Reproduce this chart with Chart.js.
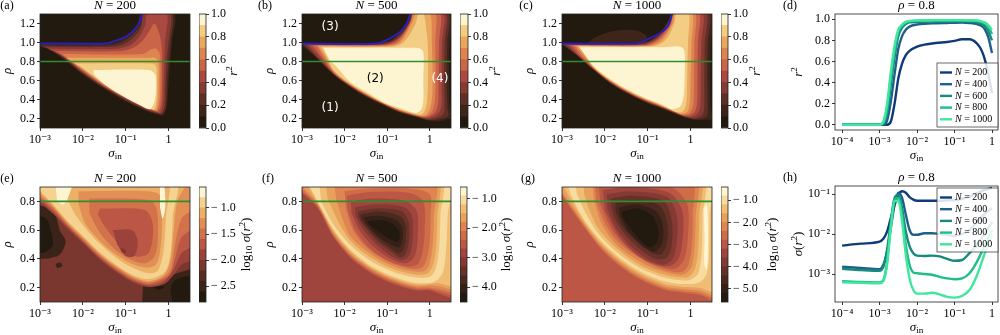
<!DOCTYPE html>
<html>
<head>
<meta charset="utf-8">
<script src="https://cdn.jsdelivr.net/npm/chart.js@4.4.1/dist/chart.umd.min.js"></script>
<style>
  html, body { margin: 0; padding: 0; background: #fff; }
  #fig { position: relative; width: 1000px; height: 335px; overflow: hidden; background: #fff; }
  #fig canvas { position: absolute; }
</style>
</head>
<body>
<div id="fig"></div>
<script>
// ---- axis ticks ----
var xTicksMap = [1e-3, 1e-2, 1e-1, 1];
var xTicksCut = [1e-4, 1e-3, 1e-2, 1e-1, 1];
var rhoTicksTop = [0.2, 0.4, 0.6, 0.8, 1.0, 1.2];
var rhoTicksBottom = [0.2, 0.4, 0.6, 0.8];
var r2Ticks = [0, 0.2, 0.4, 0.6, 0.8, 1.0];
var sdTicks = [1e-3, 1e-2, 1e-1];

// ---- colour bar levels ----
var levelsR2 = [0, 0.1, 0.2, 0.3, 0.4, 0.5, 0.6, 0.7, 0.8, 0.9, 1.0];
var levelsSd200 = [-2.8, -2.6, -2.4, -2.2, -2.0, -1.8, -1.6, -1.4, -1.2, -1.0, -0.8, -0.6];
var levelsSd500 = [-4.5, -4.2, -3.9, -3.6, -3.3, -3.0, -2.7, -2.4, -2.1, -1.8, -1.5, -1.2, -0.9, -0.6];
var levelsSd1000 = [-5.6, -5.2, -4.8, -4.4, -4.0, -3.6, -3.2, -2.8, -2.4, -2.0, -1.6, -1.2, -0.8, -0.4];
var cbTicksSd200 = [-2.5, -2.0, -1.5, -1.0];
var cbTicksSd500 = [-4, -3, -2, -1];
var cbTicksSd1000 = [-5, -4, -3, -2, -1];

// ---- rho = 1 boundary (log10 sigma_in, rho) ----
var boundary200 = [[-3, 0.99], [-1.46, 0.99], [-1.23, 1.02], [-1.0, 1.06], [-0.85, 1.11], [-0.69, 1.2], [-0.62, 1.3]];
var boundary500 = [[-3, 0.99], [-1.24, 0.99], [-0.93, 1.044], [-0.7, 1.11], [-0.54, 1.2], [-0.46, 1.3]];
var boundary1000 = [[-3, 0.99], [-1.26, 0.99], [-1.02, 1.03], [-0.71, 1.1], [-0.52, 1.18], [-0.44, 1.3]];

// ---- regime labels in panel (b): [log10 sigma_in, rho, text, colour] ----
var regimeNotes = [[-2.34, 1.165, '(3)', '#fff'], [-1.28, 0.62, '(2)', '#000'], [0.24, 0.62, '(4)', '#fff'], [-2.34, 0.315, '(1)', '#fff']];

// ---- r^2 contour regions: [band, [[log10 sigma_in, rho], ...]] ----
var r2N200 = [
  [1, [[-3.1,0.985],[-1.46,0.985],[-1.2,1.01],[-1.0,1.06],[-0.85,1.12],[-0.72,1.2],[-0.63,1.32],[0.12,1.32],[0.08,1.0],[0.04,0.8],[0.0,0.575],[-0.04,0.33],[-0.12,0.235],[-0.23,0.24],[-0.5,0.275],[-1.0,0.38],[-1.5,0.51],[-2.0,0.66],[-2.5,0.84],[-2.9,0.95],[-3.1,0.975]]],
  [2, [[-3.1,0.97],[-1.4,0.97],[-1.1,1.0],[-0.9,1.06],[-0.75,1.13],[-0.64,1.2],[-0.57,1.32],[0.07,1.32],[0.05,1.0],[0.0,0.8],[-0.035,0.575],[-0.06,0.33],[-0.14,0.245],[-0.25,0.25],[-0.5,0.285],[-1.0,0.39],[-1.5,0.52],[-2.0,0.67],[-2.5,0.85],[-2.9,0.955],[-3.1,0.965]]],
  [3, [[-3.0,0.955],[-1.3,0.955],[-1.0,0.99],[-0.8,1.06],[-0.65,1.15],[-0.55,1.32],[0.03,1.32],[0.0,1.0],[-0.05,0.8],[-0.07,0.575],[-0.09,0.34],[-0.17,0.25],[-0.28,0.26],[-0.5,0.29],[-1.0,0.4],[-1.5,0.53],[-2.0,0.68],[-2.5,0.86],[-2.85,0.945]]],
  [4, [[-2.8,0.935],[-1.2,0.935],[-0.9,0.97],[-0.7,1.05],[-0.55,1.18],[-0.48,1.32],[-0.05,1.32],[-0.08,1.0],[-0.1,0.8],[-0.11,0.575],[-0.13,0.35],[-0.2,0.26],[-0.3,0.27],[-0.5,0.3],[-1.0,0.41],[-1.5,0.535],[-2.0,0.69],[-2.5,0.865],[-2.75,0.925]]],
  [5, [[-2.65,0.91],[-1.1,0.91],[-0.8,0.95],[-0.6,1.02],[-0.45,1.12],[-0.33,1.2],[-0.22,1.1],[-0.16,0.95],[-0.15,0.8],[-0.15,0.575],[-0.17,0.36],[-0.24,0.27],[-0.32,0.28],[-0.5,0.305],[-1.0,0.415],[-1.5,0.54],[-2.0,0.7],[-2.4,0.84],[-2.6,0.9]]],
  [6, [[-2.5,0.88],[-0.6,0.88],[-0.4,0.93],[-0.27,0.93],[-0.2,0.86],[-0.19,0.575],[-0.21,0.37],[-0.27,0.28],[-0.35,0.29],[-0.5,0.31],[-1.0,0.42],[-1.5,0.55],[-2.0,0.71],[-2.45,0.87]]],
  [7, [[-2.4,0.84],[-0.5,0.84],[-0.32,0.84],[-0.24,0.8],[-0.23,0.575],[-0.25,0.38],[-0.3,0.29],[-0.5,0.315],[-1.0,0.425],[-1.5,0.56],[-2.0,0.72],[-2.35,0.83]]],
  [8, [[-2.2,0.78],[-0.45,0.78],[-0.3,0.76],[-0.27,0.575],[-0.28,0.4],[-0.34,0.295],[-0.5,0.32],[-1.0,0.43],[-1.5,0.565],[-2.0,0.73],[-2.15,0.77]]],
  [9, [[-1.75,0.71],[-0.46,0.71],[-0.31,0.66],[-0.31,0.42],[-0.42,0.3],[-0.62,0.33],[-1.08,0.44],[-1.54,0.575],[-1.75,0.67]]]
];

var r2N500 = [
  [1, [[-3.1,0.99],[-1.24,0.99],[-1.0,1.01],[-0.8,1.06],[-0.62,1.15],[-0.5,1.25],[-0.46,1.32],[0.55,1.32],[0.47,1.0],[0.46,0.6],[0.48,0.3],[0.55,0.22],[0.4,0.19],[0.2,0.17],[0.0,0.175],[-0.3,0.21],[-0.7,0.26],[-1.09,0.34],[-1.48,0.425],[-1.87,0.53],[-2.26,0.66],[-2.65,0.835],[-3.0,0.975],[-3.1,0.985]]],
  [2, [[-3.05,0.99],[-1.2,0.99],[-0.95,1.01],[-0.75,1.07],[-0.58,1.16],[-0.47,1.25],[-0.43,1.32],[0.43,1.32],[0.41,1.0],[0.4,0.6],[0.42,0.3],[0.44,0.23],[0.3,0.2],[0.1,0.185],[-0.05,0.185],[-0.3,0.215],[-0.7,0.265],[-1.09,0.345],[-1.48,0.43],[-1.87,0.535],[-2.26,0.665],[-2.65,0.84],[-3.0,0.98]]],
  [3, [[-2.95,0.985],[-1.15,0.985],[-0.9,1.01],[-0.7,1.07],[-0.55,1.16],[-0.44,1.25],[-0.41,1.32],[0.37,1.32],[0.35,1.0],[0.34,0.6],[0.35,0.32],[0.32,0.25],[0.2,0.21],[0.05,0.195],[-0.1,0.195],[-0.3,0.22],[-0.7,0.27],[-1.09,0.35],[-1.48,0.435],[-1.87,0.54],[-2.26,0.67],[-2.65,0.845],[-2.9,0.97]]],
  [4, [[-2.85,0.98],[-1.1,0.98],[-0.85,1.01],[-0.66,1.08],[-0.52,1.17],[-0.42,1.25],[-0.39,1.32],[0.31,1.32],[0.29,1.0],[0.28,0.6],[0.28,0.34],[0.22,0.26],[0.1,0.22],[-0.05,0.205],[-0.3,0.225],[-0.7,0.275],[-1.09,0.353],[-1.48,0.44],[-1.87,0.545],[-2.26,0.675],[-2.6,0.85],[-2.82,0.96]]],
  [5, [[-2.75,0.975],[-1.05,0.975],[-0.8,1.01],[-0.62,1.09],[-0.49,1.18],[-0.4,1.26],[-0.37,1.32],[0.23,1.32],[0.22,1.0],[0.21,0.6],[0.2,0.36],[0.14,0.27],[0.03,0.23],[-0.1,0.215],[-0.3,0.23],[-0.7,0.28],[-1.09,0.357],[-1.48,0.445],[-1.87,0.55],[-2.26,0.68],[-2.55,0.85],[-2.72,0.95]]],
  [6, [[-2.65,0.97],[-1.0,0.97],[-0.75,1.0],[-0.58,1.1],[-0.46,1.2],[-0.36,1.32],[0.12,1.32],[0.13,1.0],[0.14,0.6],[0.12,0.38],[0.06,0.28],[-0.03,0.235],[-0.15,0.22],[-0.3,0.235],[-0.7,0.285],[-1.09,0.36],[-1.48,0.45],[-1.87,0.555],[-2.26,0.69],[-2.5,0.85],[-2.62,0.94]]],
  [7, [[-2.6,0.96],[-0.95,0.965],[-0.7,1.0],[-0.54,1.1],[-0.4,1.22],[-0.3,1.32],[0.0,1.32],[0.05,1.0],[0.07,0.6],[0.05,0.4],[0.0,0.3],[-0.08,0.24],[-0.2,0.23],[-0.35,0.24],[-0.7,0.29],[-1.09,0.362],[-1.48,0.455],[-1.87,0.56],[-2.26,0.7],[-2.45,0.85],[-2.57,0.93]]],
  [8, [[-2.55,0.955],[-0.9,0.955],[-0.65,0.99],[-0.48,1.08],[-0.33,1.2],[-0.25,1.32],[-0.15,1.32],[-0.07,1.1],[-0.04,0.9],[-0.04,0.6],[-0.06,0.4],[-0.1,0.3],[-0.18,0.245],[-0.3,0.245],[-0.7,0.295],[-1.09,0.364],[-1.48,0.46],[-1.87,0.565],[-2.26,0.71],[-2.42,0.85],[-2.52,0.93]]],
  [9, [[-2.49,0.945],[-0.5,0.945],[-0.25,0.94],[-0.15,0.9],[-0.15,0.6],[-0.15,0.4],[-0.19,0.3],[-0.3,0.26],[-0.38,0.26],[-0.7,0.31],[-1.09,0.375],[-1.48,0.48],[-1.87,0.585],[-2.2,0.75],[-2.34,0.81],[-2.45,0.9]]]
];

var r2N1000 = [
  [1, [[-2.4,0.995],[-2.2,1.06],[-1.8,1.12],[-1.3,1.13],[-1.05,1.08],[-1.0,1.0]]],
  [1, [[-3.1,0.99],[-1.26,0.99],[-1.0,1.01],[-0.8,1.07],[-0.6,1.17],[-0.48,1.27],[-0.44,1.32],[0.5,1.32],[0.47,1.0],[0.46,0.6],[0.47,0.3],[0.55,0.2],[0.3,0.185],[0.03,0.19],[-0.32,0.24],[-0.71,0.31],[-1.1,0.38],[-1.49,0.465],[-1.88,0.57],[-2.27,0.71],[-2.66,0.865],[-3.0,0.98],[-3.1,0.985]]],
  [2, [[-3.05,0.99],[-1.2,0.99],[-0.95,1.02],[-0.75,1.08],[-0.57,1.18],[-0.46,1.27],[-0.42,1.32],[0.42,1.32],[0.4,1.0],[0.39,0.6],[0.4,0.3],[0.38,0.22],[0.2,0.195],[0.0,0.2],[-0.32,0.245],[-0.71,0.315],[-1.1,0.385],[-1.49,0.47],[-1.88,0.575],[-2.27,0.715],[-2.66,0.87],[-3.0,0.982]]],
  [3, [[-2.95,0.985],[-1.15,0.985],[-0.9,1.02],[-0.7,1.09],[-0.54,1.19],[-0.44,1.28],[-0.41,1.32],[0.35,1.32],[0.33,1.0],[0.32,0.6],[0.32,0.32],[0.28,0.24],[0.12,0.205],[-0.05,0.21],[-0.32,0.25],[-0.71,0.32],[-1.1,0.39],[-1.49,0.475],[-1.88,0.58],[-2.27,0.72],[-2.66,0.875],[-2.92,0.975]]],
  [4, [[-2.88,0.98],[-1.1,0.98],[-0.85,1.02],[-0.66,1.1],[-0.51,1.2],[-0.42,1.28],[-0.39,1.32],[0.27,1.32],[0.25,1.0],[0.24,0.6],[0.23,0.34],[0.18,0.26],[0.05,0.22],[-0.1,0.22],[-0.32,0.255],[-0.71,0.325],[-1.1,0.395],[-1.49,0.48],[-1.88,0.585],[-2.27,0.725],[-2.66,0.88],[-2.85,0.97]]],
  [5, [[-2.8,0.975],[-1.05,0.975],[-0.8,1.02],[-0.62,1.1],[-0.48,1.2],[-0.4,1.28],[-0.37,1.32],[0.19,1.32],[0.17,1.0],[0.16,0.6],[0.15,0.36],[0.1,0.27],[0.0,0.235],[-0.15,0.23],[-0.32,0.26],[-0.71,0.33],[-1.1,0.4],[-1.49,0.485],[-1.88,0.59],[-2.27,0.73],[-2.6,0.87],[-2.77,0.965]]],
  [6, [[-2.72,0.97],[-1.0,0.97],[-0.75,1.02],[-0.58,1.1],[-0.45,1.2],[-0.37,1.32],[0.1,1.32],[0.09,1.0],[0.08,0.6],[0.07,0.38],[0.03,0.29],[-0.05,0.25],[-0.2,0.24],[-0.32,0.265],[-0.71,0.335],[-1.1,0.405],[-1.49,0.49],[-1.88,0.595],[-2.27,0.735],[-2.55,0.87],[-2.7,0.96]]],
  [7, [[-2.67,0.965],[-0.95,0.965],[-0.7,1.01],[-0.54,1.1],[-0.42,1.2],[-0.34,1.32],[0.03,1.32],[0.02,1.0],[0.0,0.6],[-0.01,0.4],[-0.04,0.3],[-0.1,0.26],[-0.25,0.25],[-0.35,0.27],[-0.71,0.34],[-1.1,0.41],[-1.49,0.495],[-1.88,0.6],[-2.27,0.74],[-2.5,0.87],[-2.64,0.955]]],
  [8, [[-2.62,0.96],[-0.9,0.96],[-0.65,1.0],[-0.5,1.08],[-0.38,1.2],[-0.31,1.32],[-0.05,1.32],[-0.06,1.0],[-0.08,0.6],[-0.09,0.42],[-0.12,0.32],[-0.18,0.275],[-0.3,0.265],[-0.4,0.28],[-0.71,0.345],[-1.1,0.415],[-1.49,0.5],[-1.88,0.605],[-2.27,0.745],[-2.45,0.87],[-2.59,0.95]]],
  [9, [[-2.59,0.95],[-0.6,0.95],[-0.35,0.96],[-0.2,0.95],[-0.14,0.9],[-0.14,0.6],[-0.16,0.44],[-0.22,0.34],[-0.3,0.31],[-0.45,0.3],[-0.71,0.355],[-1.1,0.425],[-1.49,0.51],[-1.88,0.615],[-2.27,0.755],[-2.45,0.86],[-2.56,0.93]]]
];

// ---- log10 sigma(r^2) contour regions ----
var sdN200 = [
  [1, [[-3.05,0.77],[-2.77,0.755],[-2.62,0.69],[-2.54,0.6],[-2.4,0.52],[-2.54,0.43],[-2.77,0.405],[-3.05,0.4]]],
  [0, [[-3.05,0.7],[-2.85,0.68],[-2.75,0.6],[-2.7,0.5],[-2.85,0.45],[-3.05,0.44]]],
  [1, [[-2.64,0.365],[-2.52,0.375],[-2.48,0.35],[-2.6,0.335]]],
  [1, [[-0.62,0.09],[-0.56,0.24],[-0.31,0.275],[-0.08,0.25],[0.08,0.285],[0.31,0.31],[0.55,0.32],[0.55,0.09]]],
  [0, [[-0.4,0.21],[-0.25,0.225],[-0.1,0.2],[-0.25,0.185]]],
  [0, [[0.1,0.09],[0.05,0.2],[0.2,0.26],[0.55,0.27],[0.55,0.09]]],
  [4, [[-3.05,0.95],[0.55,0.95],[0.55,0.4],[0.3,0.36],[0.12,0.29],[-0.1,0.225],[-0.46,0.205],[-0.85,0.24],[-1.23,0.31],[-1.62,0.4],[-2.0,0.51],[-2.38,0.615],[-2.7,0.715],[-3.05,0.8]]],
  [5, [[-3.05,0.95],[0.55,0.95],[0.55,0.5],[0.3,0.44],[0.12,0.33],[-0.1,0.245],[-0.46,0.215],[-0.85,0.25],[-1.23,0.32],[-1.62,0.41],[-2.0,0.52],[-2.38,0.63],[-2.7,0.73],[-3.05,0.82]]],
  [6, [[-3.05,0.95],[0.55,0.95],[0.55,0.62],[0.3,0.55],[0.15,0.4],[0.05,0.3],[-0.1,0.26],[-0.46,0.225],[-0.85,0.26],[-1.23,0.33],[-1.62,0.42],[-2.0,0.53],[-2.38,0.64],[-2.7,0.745],[-3.05,0.835]]],
  [7, [[-3.05,0.95],[0.55,0.95],[0.55,0.75],[0.3,0.68],[0.15,0.5],[0.05,0.33],[-0.1,0.275],[-0.46,0.235],[-0.85,0.27],[-1.23,0.34],[-1.62,0.43],[-2.0,0.54],[-2.38,0.65],[-2.7,0.76],[-3.05,0.85]]],
  [8, [[-3.05,0.95],[0.4,0.95],[0.2,0.8],[0.12,0.6],[0.05,0.4],[-0.1,0.29],[-0.46,0.245],[-0.85,0.28],[-1.23,0.35],[-1.62,0.44],[-2.0,0.55],[-2.38,0.66],[-2.7,0.77],[-3.05,0.87]]],
  [9, [[-3.05,0.95],[0.15,0.95],[0.1,0.7],[0.05,0.45],[-0.08,0.31],[-0.46,0.26],[-0.85,0.29],[-1.23,0.36],[-1.62,0.45],[-2.0,0.56],[-2.38,0.67],[-2.7,0.78],[-3.05,0.89]]],
  [8, [[-2.4,0.95],[-0.05,0.95],[-0.06,0.7],[-0.12,0.45],[-0.25,0.32],[-0.46,0.3],[-0.85,0.34],[-1.23,0.41],[-1.62,0.51],[-1.9,0.6],[-2.2,0.72],[-2.4,0.85]]],
  [7, [[-2.1,0.87],[-0.5,0.87],[-0.2,0.84],[-0.15,0.65],[-0.2,0.45],[-0.3,0.36],[-0.5,0.34],[-0.85,0.365],[-1.23,0.43],[-1.62,0.53],[-1.95,0.65],[-2.1,0.78]]],
  [6, [[-1.85,0.82],[-0.45,0.81],[-0.28,0.75],[-0.25,0.55],[-0.32,0.42],[-0.55,0.37],[-0.85,0.39],[-1.23,0.46],[-1.6,0.58],[-1.85,0.72]]],
  [5, [[-1.6,0.75],[-0.55,0.74],[-0.38,0.66],[-0.38,0.52],[-0.5,0.43],[-0.8,0.42],[-1.15,0.5],[-1.5,0.63],[-1.65,0.71]]],
  [4, [[-1.3,0.6],[-0.85,0.6],[-0.72,0.52],[-0.8,0.42],[-1.0,0.42],[-1.2,0.5]]],
  [3, [[-1.12,0.475],[-1.02,0.465],[-1.0,0.44],[-1.1,0.45]]],
  [10, [[-2.65,0.95],[-2.25,0.95],[-2.3,0.86],[-2.45,0.78],[-2.6,0.8]]],
  [10, [[-0.2,0.9],[-0.1,0.9],[-0.08,0.75],[-0.14,0.68],[-0.2,0.76]]]
];

var sdN500 = [
  [6, [[-3.05,0.95],[0.55,0.95],[0.55,0.14],[0.2,0.16],[0.0,0.18],[-0.3,0.18],[-0.7,0.21],[-1.09,0.255],[-1.48,0.32],[-1.87,0.41],[-2.26,0.55],[-2.65,0.76],[-3.05,0.87]]],
  [7, [[-3.05,0.95],[0.55,0.95],[0.55,0.16],[0.2,0.175],[0.0,0.19],[-0.3,0.19],[-0.7,0.22],[-1.09,0.265],[-1.48,0.33],[-1.87,0.42],[-2.26,0.56],[-2.65,0.77],[-3.05,0.885]]],
  [8, [[-3.05,0.95],[0.55,0.95],[0.55,0.18],[0.2,0.19],[0.0,0.2],[-0.3,0.2],[-0.7,0.23],[-1.09,0.275],[-1.48,0.34],[-1.87,0.43],[-2.26,0.57],[-2.65,0.78],[-3.05,0.9]]],
  [9, [[-3.05,0.95],[0.55,0.95],[0.55,0.2],[0.2,0.21],[0.0,0.215],[-0.3,0.21],[-0.7,0.24],[-1.09,0.285],[-1.48,0.35],[-1.87,0.44],[-2.26,0.58],[-2.65,0.79],[-3.05,0.92]]],
  [10, [[-2.95,0.95],[0.55,0.95],[0.55,0.22],[0.2,0.23],[0.0,0.225],[-0.3,0.22],[-0.7,0.25],[-1.09,0.295],[-1.48,0.36],[-1.87,0.455],[-2.26,0.595],[-2.65,0.8]]],
  [11, [[-2.9,0.95],[0.45,0.95],[0.42,0.7],[0.38,0.45],[0.3,0.3],[0.1,0.24],[-0.3,0.232],[-0.7,0.26],[-1.09,0.305],[-1.48,0.37],[-1.87,0.465],[-2.26,0.605],[-2.65,0.81]]],
  [10, [[-2.6,0.95],[0.25,0.95],[0.25,0.7],[0.22,0.47],[0.14,0.33],[0.0,0.275],[-0.3,0.27],[-0.7,0.295],[-1.09,0.34],[-1.48,0.405],[-1.87,0.5],[-2.26,0.64],[-2.55,0.8]]],
  [9, [[-2.45,0.95],[0.17,0.95],[0.18,0.7],[0.15,0.48],[0.07,0.35],[-0.05,0.3],[-0.3,0.29],[-0.7,0.315],[-1.09,0.36],[-1.48,0.43],[-1.87,0.53],[-2.15,0.66],[-2.4,0.82]]],
  [8, [[-2.25,0.95],[0.1,0.95],[0.1,0.7],[0.07,0.5],[0.0,0.37],[-0.1,0.32],[-0.3,0.31],[-0.7,0.335],[-1.09,0.38],[-1.48,0.455],[-1.87,0.56],[-2.05,0.68],[-2.2,0.82]]],
  [7, [[-2.0,0.87],[-1.5,0.89],[-0.5,0.89],[0.0,0.85],[0.02,0.7],[0.0,0.52],[-0.07,0.4],[-0.18,0.34],[-0.4,0.33],[-0.75,0.355],[-1.09,0.4],[-1.48,0.48],[-1.8,0.6],[-1.97,0.75]]],
  [6, [[-1.95,0.84],[-1.4,0.865],[-0.5,0.86],[-0.15,0.8],[-0.12,0.6],[-0.17,0.45],[-0.3,0.36],[-0.6,0.35],[-1.0,0.39],[-1.4,0.47],[-1.75,0.6],[-1.93,0.74]]],
  [5, [[-1.85,0.8],[-1.3,0.82],[-0.55,0.8],[-0.3,0.73],[-0.28,0.55],[-0.35,0.42],[-0.55,0.37],[-0.9,0.4],[-1.3,0.48],[-1.65,0.6],[-1.84,0.72]]],
  [4, [[-1.75,0.76],[-1.2,0.78],[-0.6,0.76],[-0.42,0.7],[-0.4,0.55],[-0.47,0.43],[-0.63,0.39],[-0.9,0.42],[-1.25,0.5],[-1.6,0.62],[-1.75,0.7]]],
  [3, [[-1.68,0.73],[-1.2,0.75],[-0.65,0.73],[-0.5,0.66],[-0.48,0.55],[-0.54,0.45],[-0.67,0.41],[-0.9,0.45],[-1.25,0.53],[-1.55,0.63],[-1.68,0.69]]],
  [2, [[-1.62,0.71],[-1.2,0.73],[-0.72,0.7],[-0.57,0.64],[-0.56,0.55],[-0.61,0.47],[-0.72,0.44],[-0.95,0.48],[-1.28,0.56],[-1.52,0.64],[-1.62,0.68]]],
  [1, [[-1.55,0.69],[-1.2,0.7],[-0.78,0.67],[-0.64,0.61],[-0.64,0.54],[-0.71,0.48],[-0.98,0.51],[-1.3,0.58],[-1.5,0.65]]],
  [0, [[-1.45,0.66],[-1.15,0.67],[-0.85,0.64],[-0.71,0.58],[-0.75,0.52],[-0.95,0.54],[-1.25,0.6],[-1.42,0.64]]]
];

var sdN1000 = [
  [7, [[-3.05,0.95],[0.55,0.95],[0.55,0.12],[0.2,0.15],[-0.16,0.165],[-0.55,0.18],[-0.95,0.225],[-1.34,0.285],[-1.73,0.37],[-2.12,0.48],[-2.51,0.63],[-3.05,0.86]]],
  [8, [[-3.05,0.95],[0.55,0.95],[0.55,0.14],[0.2,0.165],[-0.16,0.177],[-0.55,0.192],[-0.95,0.237],[-1.34,0.297],[-1.73,0.382],[-2.12,0.492],[-2.51,0.643],[-3.05,0.875]]],
  [9, [[-3.05,0.95],[0.55,0.95],[0.55,0.16],[0.2,0.18],[-0.16,0.19],[-0.55,0.205],[-0.95,0.25],[-1.34,0.31],[-1.73,0.395],[-2.12,0.505],[-2.51,0.655],[-3.05,0.89]]],
  [10, [[-3.05,0.95],[0.55,0.95],[0.55,0.18],[0.2,0.2],[-0.16,0.205],[-0.55,0.22],[-0.95,0.265],[-1.34,0.325],[-1.73,0.41],[-2.12,0.52],[-2.51,0.67],[-3.0,0.92]]],
  [11, [[-2.9,0.95],[0.45,0.95],[0.44,0.7],[0.43,0.45],[0.38,0.3],[0.2,0.235],[-0.16,0.225],[-0.55,0.24],[-0.95,0.28],[-1.34,0.34],[-1.73,0.425],[-2.12,0.535],[-2.51,0.685],[-2.8,0.85]]],
  [10, [[-2.7,0.95],[0.28,0.95],[0.28,0.7],[0.26,0.45],[0.18,0.3],[0.0,0.255],[-0.16,0.25],[-0.55,0.265],[-0.95,0.305],[-1.34,0.365],[-1.73,0.45],[-2.12,0.565],[-2.45,0.72],[-2.65,0.85]]],
  [9, [[-2.5,0.95],[0.2,0.95],[0.2,0.7],[0.18,0.47],[0.1,0.33],[-0.05,0.275],[-0.2,0.27],[-0.55,0.285],[-0.95,0.325],[-1.34,0.385],[-1.73,0.475],[-2.12,0.6],[-2.35,0.73],[-2.48,0.85]]],
  [8, [[-2.3,0.95],[0.12,0.95],[0.12,0.7],[0.1,0.5],[0.03,0.35],[-0.1,0.3],[-0.25,0.29],[-0.55,0.305],[-0.95,0.345],[-1.34,0.41],[-1.73,0.5],[-2.05,0.63],[-2.25,0.8]]],
  [7, [[-2.25,0.96],[0.0,0.96],[0.05,0.7],[0.03,0.5],[-0.05,0.36],[-0.2,0.31],[-0.55,0.32],[-0.95,0.365],[-1.34,0.435],[-1.73,0.53],[-2.0,0.65],[-2.2,0.8]]],
  [6, [[-2.15,0.92],[-1.5,0.94],[-0.45,0.9],[-0.08,0.78],[-0.06,0.56],[-0.15,0.4],[-0.35,0.335],[-0.7,0.345],[-1.1,0.4],[-1.5,0.485],[-1.85,0.61],[-2.1,0.78]]],
  [5, [[-2.05,0.88],[-1.45,0.9],[-0.5,0.86],[-0.2,0.74],[-0.18,0.55],[-0.28,0.4],[-0.5,0.35],[-0.9,0.37],[-1.3,0.44],[-1.7,0.57],[-2.0,0.74]]],
  [4, [[-1.95,0.85],[-1.4,0.87],[-0.55,0.83],[-0.32,0.7],[-0.32,0.52],[-0.42,0.4],[-0.65,0.36],[-1.0,0.4],[-1.4,0.49],[-1.75,0.62],[-1.95,0.76]]],
  [3, [[-1.85,0.82],[-1.35,0.84],[-0.62,0.8],[-0.44,0.66],[-0.44,0.5],[-0.55,0.41],[-0.8,0.4],[-1.15,0.46],[-1.5,0.56],[-1.75,0.67],[-1.85,0.76]]],
  [2, [[-1.75,0.79],[-1.3,0.81],[-0.72,0.77],[-0.54,0.64],[-0.56,0.5],[-0.7,0.43],[-0.95,0.45],[-1.3,0.53],[-1.6,0.63],[-1.75,0.73]]],
  [1, [[-1.68,0.76],[-1.25,0.78],[-0.8,0.73],[-0.64,0.62],[-0.68,0.5],[-0.85,0.45],[-1.15,0.5],[-1.45,0.59],[-1.65,0.7]]],
  [0, [[-1.6,0.73],[-1.25,0.75],[-0.9,0.7],[-0.75,0.6],[-0.8,0.51],[-0.95,0.48],[-1.2,0.54],[-1.45,0.63],[-1.58,0.69]]],
  [12, [[0.3,0.75],[0.38,0.78],[0.41,0.5],[0.38,0.33],[0.32,0.36],[0.33,0.55]]]
];

// ---- cuts at rho = 0.8 ----
var nLabels = ['200', '400', '600', '800', '1000'];
var lineColors = ['#0e3a78', '#1f5f8b', '#17897f', '#1fbd8a', '#3ee79c'];

var logSigmaR2 = [-4, -3.5, -3, -2.9, -2.8, -2.7, -2.6, -2.5, -2.4, -2.3, -2.2, -2.0, -1.8, -1.5, -1.2, -1.0, -0.8, -0.6, -0.4, -0.3, -0.2, -0.1, 0];
var r2N200Cut = [0, 0, 0, 0, 0.0, 0.03, 0.2, 0.44, 0.58, 0.66, 0.7, 0.74, 0.76, 0.775, 0.785, 0.795, 0.81, 0.81, 0.77, 0.72, 0.63, 0.48, 0.3];
var r2N400Cut = [0, 0, 0, 0, 0.04, 0.22, 0.48, 0.72, 0.84, 0.9, 0.93, 0.95, 0.958, 0.962, 0.965, 0.967, 0.968, 0.965, 0.955, 0.94, 0.91, 0.83, 0.68];
var r2N600Cut = [0, 0, 0, 0.01, 0.1, 0.38, 0.64, 0.84, 0.92, 0.955, 0.97, 0.975, 0.977, 0.978, 0.979, 0.98, 0.98, 0.978, 0.972, 0.96, 0.94, 0.89, 0.8];
var r2N800Cut = [0, 0, 0, 0.02, 0.15, 0.45, 0.7, 0.88, 0.94, 0.97, 0.98, 0.985, 0.986, 0.987, 0.988, 0.988, 0.988, 0.987, 0.982, 0.975, 0.96, 0.93, 0.86];
var r2N1000Cut = [0, 0, 0, 0.03, 0.2, 0.5, 0.75, 0.9, 0.95, 0.975, 0.985, 0.99, 0.991, 0.992, 0.992, 0.992, 0.992, 0.991, 0.988, 0.982, 0.97, 0.945, 0.9];

var logSigmaSd = [-4, -3.5, -3, -2.9, -2.8, -2.7, -2.6, -2.5, -2.4, -2.3, -2.2, -2.1, -2.0, -1.8, -1.6, -1.4, -1.2, -1.0, -0.8, -0.6, -0.4, -0.2, 0];
var logSdN200Cut = [-2.29, -2.24, -2.19, -2.12, -1.94, -1.6, -1.27, -1.02, -0.93, -0.97, -1.08, -1.14, -1.17, -1.17, -1.17, -1.17, -1.16, -1.15, -1.12, -1.06, -0.98, -0.9, -0.85];
var logSdN400Cut = [-2.82, -2.85, -2.88, -2.77, -2.44, -1.85, -1.27, -0.97, -1.1, -1.52, -1.9, -2.02, -2.02, -1.98, -1.98, -2.0, -2.02, -2.05, -2.0, -1.9, -1.7, -1.5, -1.35];
var logSdN600Cut = [-2.87, -2.9, -2.92, -2.82, -2.4, -1.69, -1.1, -1.02, -1.35, -1.94, -2.31, -2.48, -2.54, -2.55, -2.54, -2.56, -2.62, -2.67, -2.65, -2.48, -2.27, -2.0, -1.7];
var logSdN800Cut = [-3.18, -3.2, -3.21, -3.15, -2.69, -1.77, -1.14, -1.1, -1.52, -2.27, -2.77, -2.96, -2.98, -3.0, -3.02, -3.07, -3.11, -3.13, -3.11, -2.98, -2.69, -2.3, -1.9];
var logSdN1000Cut = [-3.21, -3.22, -3.23, -3.18, -2.77, -1.85, -1.18, -1.17, -1.69, -2.52, -3.11, -3.4, -3.49, -3.49, -3.47, -3.51, -3.57, -3.59, -3.55, -3.4, -3.03, -2.5, -2.0];

// ---- styling helpers ----
var FONT = "'Liberation Serif', 'DejaVu Serif', serif";
Chart.defaults.font.family = FONT;
Chart.defaults.font.size = 12;
Chart.defaults.color = '#000';
Chart.defaults.plugins.legend.display = false;
Chart.defaults.plugins.tooltip.enabled = false;

var CMAP = ['#22190f', '#3e2419', '#5e2f25', '#853a33', '#aa4940', '#cb6547', '#dd8450', '#eaa85e', '#f4cd84', '#fdf5d2'];

function hexRgb(h) {
  return [1, 3, 5].map(function (i) { return parseInt(h.substr(i, 2), 16); });
}

// colour of contour band b out of n, sampled at the band middle
function bandColor(b, n) {
  var t = Math.min(9, Math.max(0, (b + 0.5) / n * 10 - 0.5));
  var i = Math.min(8, Math.floor(t));
  var f = t - i;
  var c0 = hexRgb(CMAP[i]), c1 = hexRgb(CMAP[i + 1]);
  return 'rgb(' + c0.map(function (v, k) { return Math.round(v + (c1[k] - v) * f); }).join(',') + ')';
}

var SUP = {'-': '\u207B', '0': '\u2070', '1': '\u00B9', '2': '\u00B2', '3': '\u00B3', '4': '\u2074', '5': '\u2075'};
function powLabel(v) {
  var e = Math.round(Math.log10(v));
  if (e === 0) return '1';
  return '10' + String(e).split('').map(function (c) { return SUP[c]; }).join('');
}

function minusLabel(v) {
  return v < 0 ? '\u2212 ' + Math.abs(v).toFixed(1) : v.toFixed(1);
}

// draws a run of text pieces (italic, sub/superscript) centred on x,y
function drawRuns(ctx, runs, x, y, size, rot, align) {
  ctx.save();
  ctx.translate(x, y);
  if (rot) ctx.rotate(rot);
  var total = 0;
  var parts = runs.map(function (r) {
    var s = size * (r.sc || 1);
    var font = (r.it ? 'italic ' : '') + s + 'px ' + FONT;
    ctx.font = font;
    var w = ctx.measureText(r.t).width;
    total += w;
    return {t: r.t, font: font, w: w, dy: r.dy || 0};
  });
  var cx = align === 'left' ? 0 : -total / 2;
  ctx.textBaseline = 'middle';
  ctx.textAlign = 'left';
  ctx.fillStyle = '#000';
  parts.forEach(function (p) {
    ctx.font = p.font;
    ctx.fillText(p.t, cx, p.dy);
    cx += p.w;
  });
  ctx.restore();
}

var XLABEL = [{t: '\u03C3', it: true}, {t: 'in', sc: 0.7, dy: 3}];
var RHO = [{t: '\u03C1', it: true}];
var R2 = [{t: 'r', it: true}, {t: '2', sc: 0.7, dy: -4}];
var SDR2 = [{t: '\u03C3', it: true}, {t: '('}, {t: 'r', it: true}, {t: '2', sc: 0.7, dy: -4}, {t: ')'}];
var LOGSD = [{t: 'log'}, {t: '10', sc: 0.7, dy: 3}, {t: ' \u03C3', it: true}, {t: '('}, {t: 'r', it: true}, {t: '2', sc: 0.7, dy: -4}, {t: ')'}];
function nTitle(n) { return [{t: 'N', it: true}, {t: ' = ' + n}]; }
var RHOTITLE = [{t: '\u03C1', it: true}, {t: ' = 0.8'}];

var fig = document.getElementById('fig');
function addCanvas(left, top, w, h) {
  var c = document.createElement('canvas');
  c.width = w; c.height = h;
  c.style.left = left + 'px'; c.style.top = top + 'px';
  c.style.width = w + 'px'; c.style.height = h + 'px';
  fig.appendChild(c);
  return c;
}

function fixedTicks(list) {
  return function (s) { s.ticks = list.map(function (v) { return {value: v}; }); };
}

function axisGrid() {
  return {drawOnChartArea: false, color: '#000', tickLength: 3, tickWidth: 0.8};
}

// frame, titles and axis labels of a panel
function decor(o) {
  return {
    id: 'decor',
    beforeDatasetsDraw: function (chart) {
      if (o.bg == null) return;
      var a = chart.chartArea, ctx = chart.ctx;
      ctx.save();
      ctx.fillStyle = o.bg;
      ctx.fillRect(a.left, a.top, a.right - a.left, a.bottom - a.top);
      ctx.restore();
    },
    afterDraw: function (chart) {
      var a = chart.chartArea, ctx = chart.ctx;
      ctx.save();
      ctx.strokeStyle = '#222';
      ctx.lineWidth = 0.8;
      ctx.strokeRect(a.left, a.top, a.right - a.left, a.bottom - a.top);
      ctx.restore();
      if (o.notes) {
        var sx = chart.scales.x, sy = chart.scales.y;
        ctx.save();
        ctx.font = "12px 'DejaVu Sans', sans-serif";
        ctx.textAlign = 'center';
        ctx.textBaseline = 'middle';
        o.notes.forEach(function (nt) {
          ctx.fillStyle = nt[3];
          ctx.fillText(nt[2], sx.getPixelForValue(Math.pow(10, nt[0])), sy.getPixelForValue(nt[1]));
        });
        ctx.restore();
      }
      if (o.legend) o.legend(chart);
      drawRuns(ctx, o.title, (a.left + a.right) / 2, a.top - 8, 13);
      drawRuns(ctx, [{t: o.letter}], a.left - o.letterDx, a.top - 8, 12);
      drawRuns(ctx, XLABEL, (a.left + a.right) / 2, a.bottom + 26, 13);
      drawRuns(ctx, o.ylabel, a.left - o.ylabelDx, (a.top + a.bottom) / 2, 13, -Math.PI / 2);
    }
  };
}

var PADL = 56, PADT = 20, PADB = 40, AXW = 40, AXH = 24;

function contourPanel(p) {
  var cv = addCanvas(p.left - PADL, p.top - PADT, p.width + PADL + 4, p.height + PADT + PADB);
  var xMin = 1e-3, xMax = Math.pow(10, 0.5);
  var ds = p.regions.map(function (reg, i) {
    return {
      data: reg[1].map(function (q) { return {x: Math.pow(10, q[0]), y: q[1]}; }),
      backgroundColor: bandColor(reg[0], p.nBands),
      borderWidth: 0, pointRadius: 0, fill: 'shape', tension: 0.3,
      capBezierPoints: false, order: -i
    };
  });
  ds.push({
    data: [{x: xMin, y: 0.8}, {x: xMax, y: 0.8}],
    borderColor: '#2f8f2f', borderWidth: 1.6, pointRadius: 0, fill: false, order: -1000
  });
  if (p.boundary) {
    ds.push({
      data: p.boundary.map(function (q) { return {x: Math.pow(10, q[0]), y: q[1]}; }),
      borderColor: '#2b1fb8', borderWidth: 2, pointRadius: 0, fill: false, tension: 0.3,
      capBezierPoints: false, order: -1001
    });
  }
  new Chart(cv, {
    type: 'line',
    data: {datasets: ds},
    options: {
      responsive: false, animation: false, devicePixelRatio: 1, events: [],
      layout: {padding: {left: PADL - AXW, top: PADT, right: 4, bottom: PADB - AXH}},
      scales: {
        x: {
          type: 'logarithmic', min: xMin, max: xMax,
          afterBuildTicks: fixedTicks(xTicksMap),
          afterFit: function (s) { s.height = AXH; },
          grid: axisGrid(), border: {display: false},
          ticks: {callback: powLabel, autoSkip: false, maxRotation: 0, padding: 2}
        },
        y: {
          type: 'linear', min: p.yMin, max: p.yMax,
          afterBuildTicks: fixedTicks(p.yTicks),
          afterFit: function (s) { s.width = AXW; },
          grid: axisGrid(), border: {display: false},
          ticks: {callback: function (v) { return v.toFixed(1); }, padding: 2}
        }
      }
    },
    plugins: [decor({bg: bandColor(p.bg, p.nBands), title: p.title, letter: p.letter,
      letterDx: p.letterDx, ylabel: RHO, ylabelDx: 32, notes: p.notes})]
  });
}

function colorBar(p) {
  var W = 62;
  var cv = addCanvas(p.left, p.top - 10, p.width + W, p.height + 20);
  var n = p.levels.length - 1;
  var ds = [];
  for (var i = 0; i < n; i++) {
    ds.push({data: [[p.levels[i], p.levels[i + 1]]], backgroundColor: bandColor(i, n),
      borderWidth: 0, barPercentage: 1, categoryPercentage: 1, grouped: false});
  }
  new Chart(cv, {
    type: 'bar',
    data: {labels: [''], datasets: ds},
    options: {
      responsive: false, animation: false, devicePixelRatio: 1, events: [],
      layout: {padding: {top: 10, bottom: 10, left: 0, right: 0}},
      scales: {
        x: {display: false},
        y: {
          position: 'right', min: p.levels[0], max: p.levels[n],
          afterBuildTicks: fixedTicks(p.ticks),
          afterFit: function (s) { s.width = W; },
          grid: axisGrid(), border: {display: false},
          ticks: {callback: minusLabel, padding: 2}
        }
      }
    },
    plugins: [{
      id: 'cbDecor',
      afterDraw: function (chart) {
        var a = chart.chartArea, ctx = chart.ctx;
        ctx.save();
        ctx.strokeStyle = '#222';
        ctx.lineWidth = 0.8;
        ctx.strokeRect(a.left, a.top, a.right - a.left, a.bottom - a.top);
        ctx.restore();
        drawRuns(ctx, p.label, a.left + p.labelDx, (a.top + a.bottom) / 2, 13, -Math.PI / 2);
      }
    }]
  });
}

function legendDrawer(dx, dy) {
  return function (chart) {
    var a = chart.chartArea, ctx = chart.ctx;
    var x0 = a.left + dx, y0 = a.top + dy, w = 61, h = 64;
    ctx.save();
    ctx.fillStyle = 'rgba(255,255,255,0.85)';
    ctx.strokeStyle = '#444';
    ctx.lineWidth = 0.8;
    ctx.fillRect(x0, y0, w, h);
    ctx.strokeRect(x0, y0, w, h);
    chart.data.datasets.forEach(function (d, i) {
      var yy = y0 + 9.5 + i * 11.7;
      ctx.strokeStyle = d.borderColor;
      ctx.lineWidth = 2.4;
      ctx.beginPath();
      ctx.moveTo(x0 + 3, yy);
      ctx.lineTo(x0 + 15, yy);
      ctx.stroke();
      drawRuns(ctx, [{t: 'N', it: true}, {t: ' = ' + nLabels[i]}], x0 + 18, yy, 10, 0, 'left');
    });
    ctx.restore();
  };
}

function cutPanel(p) {
  var cv = addCanvas(p.left - PADL, p.top - PADT, p.width + PADL + 2, p.height + PADT + PADB);
  var xMin = Math.pow(10, -4.19), xMax = Math.pow(10, 0.16);
  var ds = p.series.map(function (ys, i) {
    return {
      label: 'N = ' + nLabels[i],
      data: p.xs.map(function (u, k) { return {x: Math.pow(10, u), y: p.logY ? Math.pow(10, ys[k]) : ys[k]}; }),
      borderColor: lineColors[i], borderWidth: 2.4, pointRadius: 0, fill: false,
      cubicInterpolationMode: 'monotone', order: -i
    };
  });
  new Chart(cv, {
    type: 'line',
    data: {datasets: ds},
    options: {
      responsive: false, animation: false, devicePixelRatio: 1, events: [],
      layout: {padding: {left: PADL - AXW, top: PADT, right: 2, bottom: PADB - AXH}},
      scales: {
        x: {
          type: 'logarithmic', min: xMin, max: xMax,
          afterBuildTicks: fixedTicks(xTicksCut),
          afterFit: function (s) { s.height = AXH; },
          grid: axisGrid(), border: {display: false},
          ticks: {callback: powLabel, autoSkip: false, maxRotation: 0, padding: 2}
        },
        y: p.logY ? {
          type: 'logarithmic', min: Math.pow(10, -3.7), max: Math.pow(10, -0.8),
          afterBuildTicks: fixedTicks(sdTicks),
          afterFit: function (s) { s.width = AXW; },
          grid: axisGrid(), border: {display: false},
          ticks: {callback: powLabel, autoSkip: false, padding: 2}
        } : {
          type: 'linear', min: -0.05, max: 1.05,
          afterBuildTicks: fixedTicks(r2Ticks),
          afterFit: function (s) { s.width = AXW; },
          grid: axisGrid(), border: {display: false},
          ticks: {callback: function (v) { return v.toFixed(1); }, padding: 2}
        }
      }
    },
    plugins: [decor({bg: null, title: RHOTITLE, letter: p.letter, letterDx: 45,
      ylabel: p.ylabel, ylabelDx: 36, legend: legendDrawer(p.legendDx, p.legendDy)})]
  });
}

// ---- top row: r^2 ----
contourPanel({left: 40, top: 14, width: 150, height: 114, yMin: 0.1, yMax: 1.3, yTicks: rhoTicksTop,
  regions: r2N200, nBands: 10, bg: 0, boundary: boundary200, title: nTitle('200'), letter: '(a)', letterDx: 33});
contourPanel({left: 302, top: 14, width: 149, height: 114, yMin: 0.1, yMax: 1.3, yTicks: rhoTicksTop,
  regions: r2N500, nBands: 10, bg: 0, boundary: boundary500, title: nTitle('500'), letter: '(b)', letterDx: 37,
  notes: regimeNotes});
contourPanel({left: 562, top: 14, width: 150, height: 114, yMin: 0.1, yMax: 1.3, yTicks: rhoTicksTop,
  regions: r2N1000, nBands: 10, bg: 0, boundary: boundary1000, title: nTitle('1000'), letter: '(c)', letterDx: 36});
cutPanel({left: 835, top: 14, width: 163, height: 116, xs: logSigmaR2, logY: false,
  series: [r2N200Cut, r2N400Cut, r2N600Cut, r2N800Cut, r2N1000Cut],
  ylabel: R2, letter: '(d)', legendDx: 102, legendDy: 49});

// ---- bottom row: log10 sigma(r^2) ----
contourPanel({left: 40, top: 187, width: 150, height: 115, yMin: 0.1, yMax: 0.9, yTicks: rhoTicksBottom,
  regions: sdN200, nBands: 11, bg: 3, title: nTitle('200'), letter: '(e)', letterDx: 33});
contourPanel({left: 302, top: 187, width: 149, height: 115, yMin: 0.1, yMax: 0.9, yTicks: rhoTicksBottom,
  regions: sdN500, nBands: 13, bg: 5, title: nTitle('500'), letter: '(f)', letterDx: 34});
contourPanel({left: 562, top: 187, width: 150, height: 115, yMin: 0.1, yMax: 0.9, yTicks: rhoTicksBottom,
  regions: sdN1000, nBands: 13, bg: 6, title: nTitle('1000'), letter: '(g)', letterDx: 34});
cutPanel({left: 835, top: 186, width: 163, height: 116, xs: logSigmaSd, logY: true,
  series: [logSdN200Cut, logSdN400Cut, logSdN600Cut, logSdN800Cut, logSdN1000Cut],
  ylabel: SDR2, letter: '(h)', legendDx: 102, legendDy: 2});

// ---- colour bars ----
colorBar({left: 199, top: 14, width: 7, height: 114, levels: levelsR2, ticks: r2Ticks, label: R2, labelDx: 35});
colorBar({left: 460, top: 14, width: 8, height: 114, levels: levelsR2, ticks: r2Ticks, label: R2, labelDx: 37});
colorBar({left: 721, top: 14, width: 7, height: 114, levels: levelsR2, ticks: r2Ticks, label: R2, labelDx: 36});
colorBar({left: 199, top: 187, width: 7, height: 115, levels: levelsSd200, ticks: cbTicksSd200, label: LOGSD, labelDx: 48});
colorBar({left: 460, top: 187, width: 7, height: 115, levels: levelsSd500, ticks: cbTicksSd500, label: LOGSD, labelDx: 47});
colorBar({left: 721, top: 187, width: 7, height: 115, levels: levelsSd1000, ticks: cbTicksSd1000, label: LOGSD, labelDx: 52});
</script>
</body>
</html>
